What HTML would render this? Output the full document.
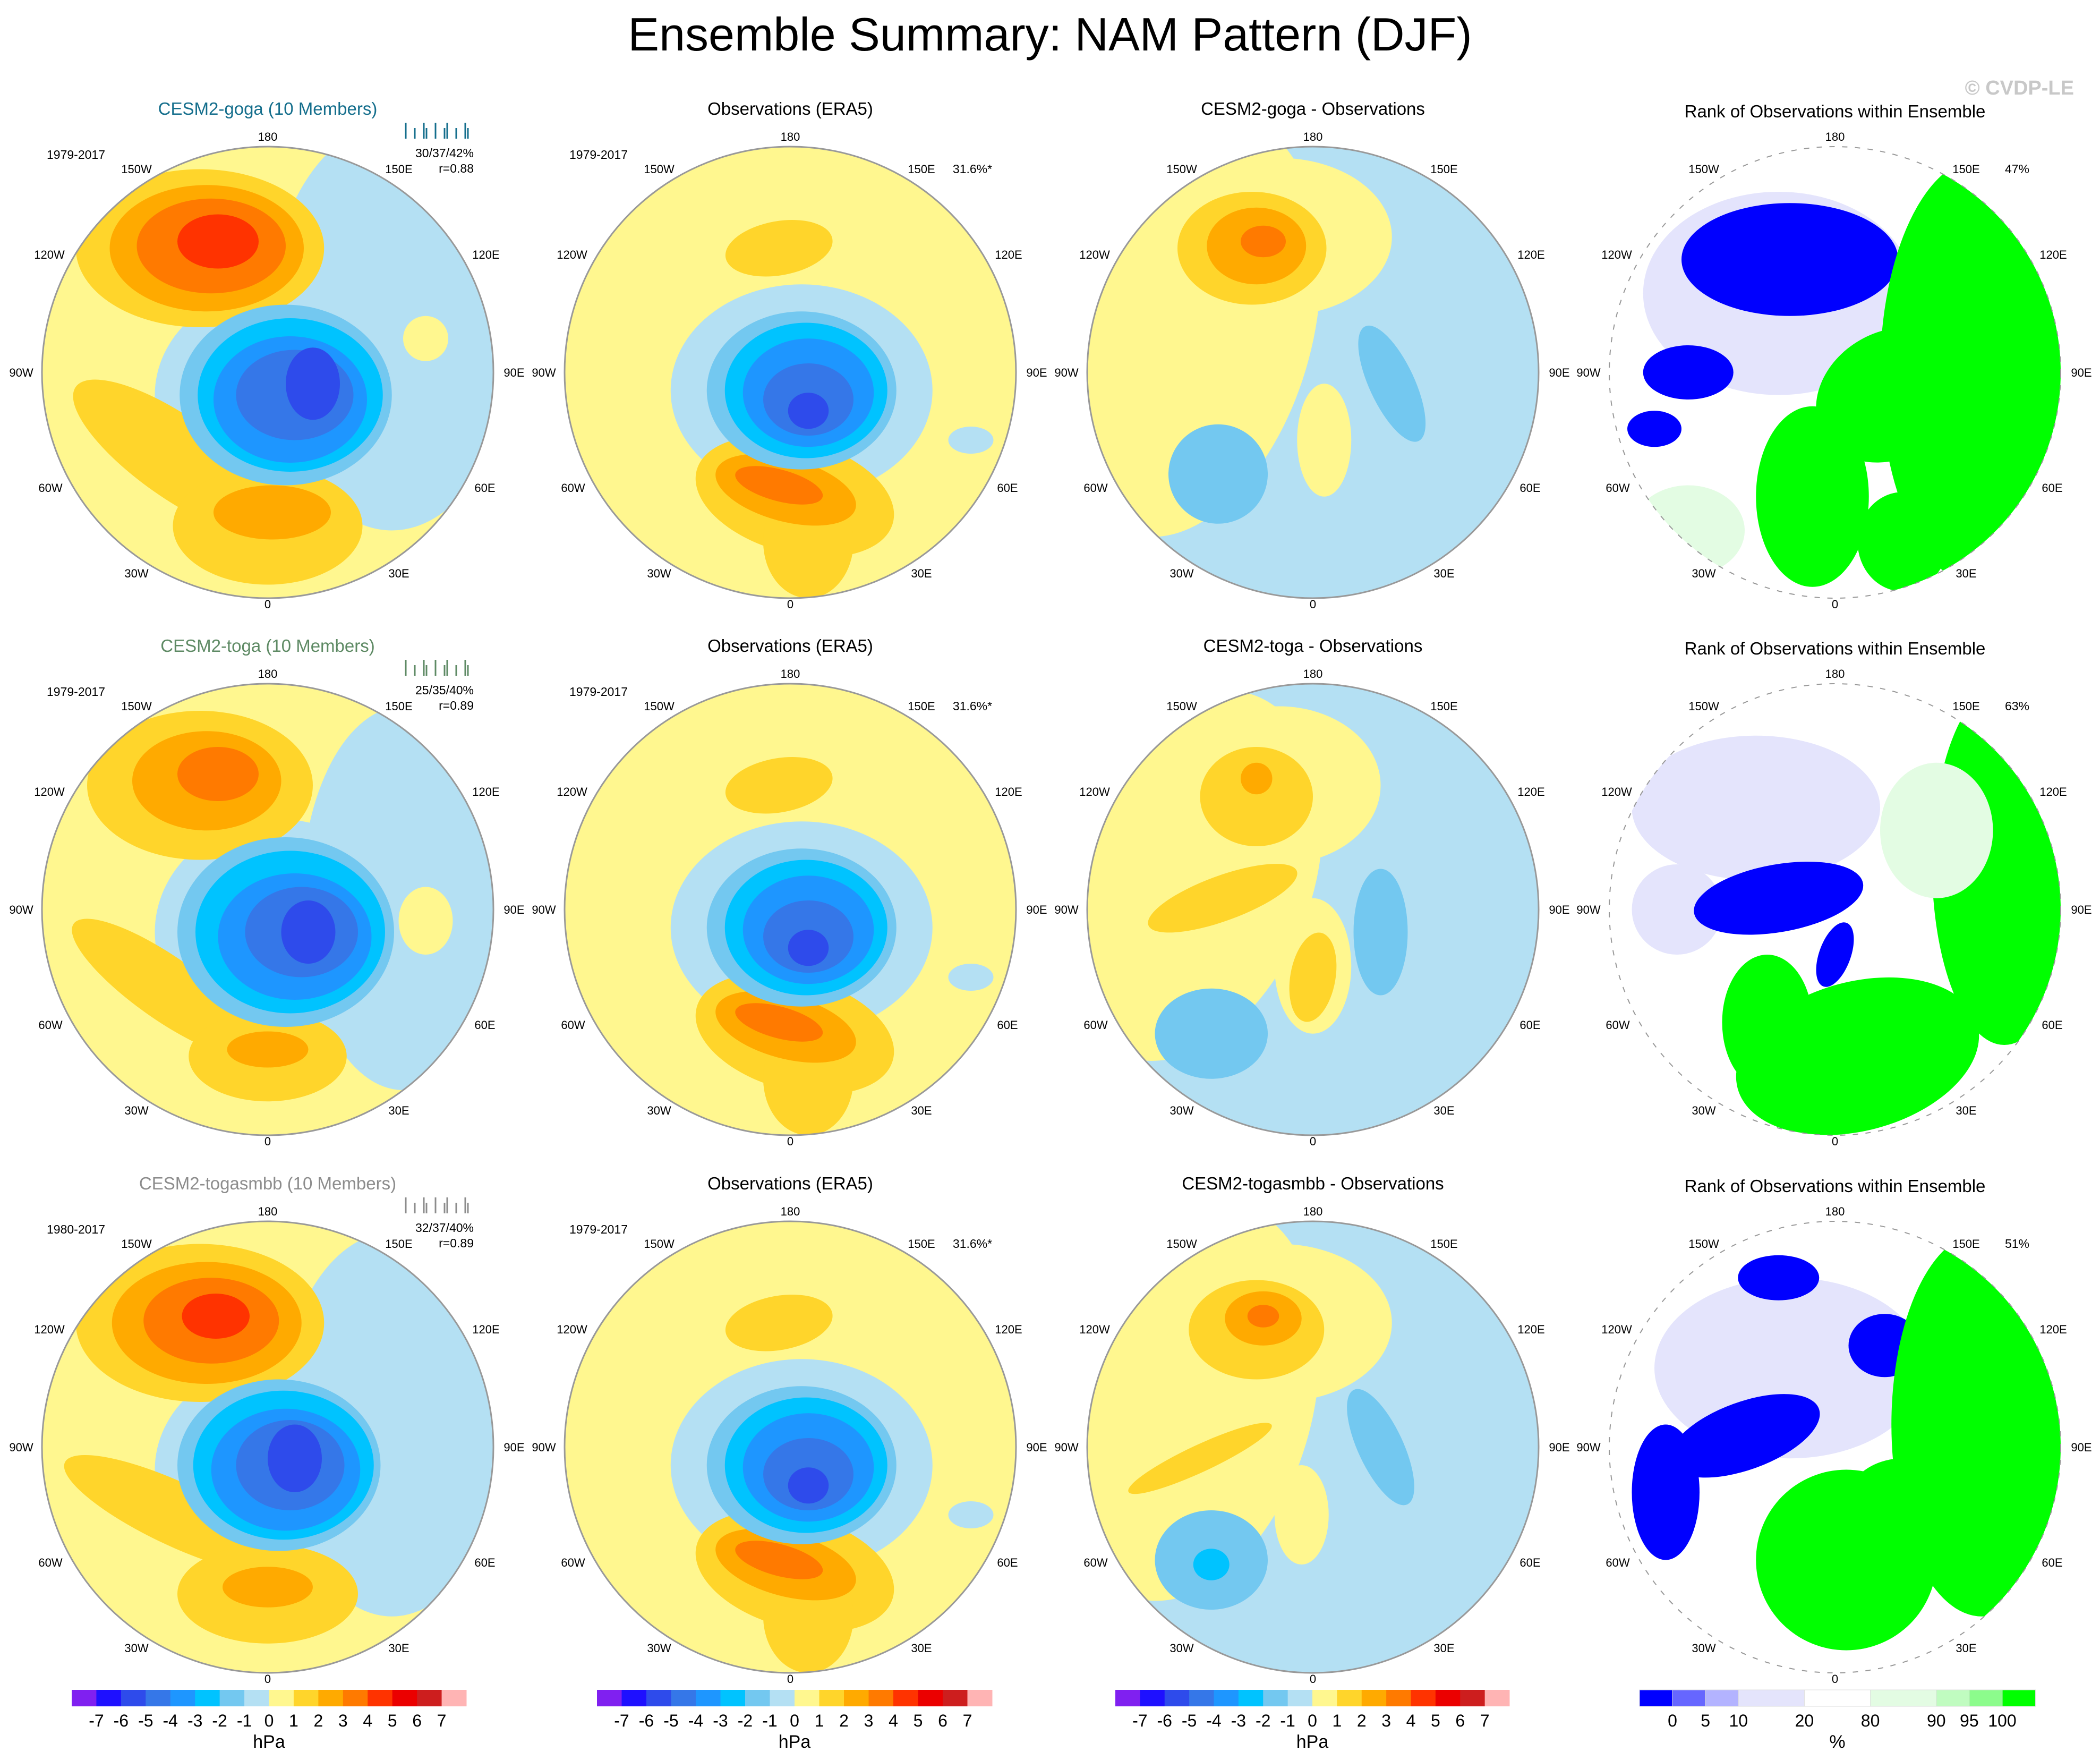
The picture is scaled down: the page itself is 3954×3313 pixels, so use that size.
<!DOCTYPE html>
<html><head><meta charset="utf-8">
<style>
html,body{margin:0;padding:0;background:#fff;}
svg{display:block;font-family:"Liberation Sans",sans-serif;}
</style></head>
<body>
<svg id="fig" xmlns="http://www.w3.org/2000/svg" width="3954" height="3313" viewBox="0 0 3954 3313">
<rect width="3954" height="3313" fill="#fff"/>
<text x="1977" y="95" font-size="88" text-anchor="middle" fill="#000">Ensemble Summary: NAM Pattern (DJF)</text>
<text x="3905" y="178" font-size="38" text-anchor="end" fill="#c8c8c8" font-weight="bold">© CVDP-LE</text>
<g id="panels"></g>
</svg>
<script>
// ---- data ----
const hpaColors=["#8020F0","#1E10FF","#2E4BEB","#3577E8","#1E96FF","#00C3FF","#73C8F0","#B4E0F3","#FFF78F","#FFD52B","#FFAA00","#FF7A00","#FF3300","#EB0000","#CD1E1E","#FFB4B4"];
const hpaTicks=["-7","-6","-5","-4","-3","-2","-1","0","1","2","3","4","5","6","7"];
const rankColors=["#0000FF","#6666FF","#B3B3FF","#E4E4FC","#FFFFFF","#E3FCE3","#C0FCC0","#8CFC8C","#00FF00"];
const rankEdges=[0,5,10,20,80,90,95,100];
const rankTicks=["0","5","10","20","80","90","95","100"];
const rowTitles=["CESM2-goga (10 Members)","CESM2-toga (10 Members)","CESM2-togasmbb (10 Members)"];
const rowTitleColors=["#146E8C","#5E8A64","#8C8C8C"];
const diffTitles=["CESM2-goga - Observations","CESM2-toga - Observations","CESM2-togasmbb - Observations"];
const modelYears=["1979-2017","1979-2017","1980-2017"];
const modelStats=["30/37/42%","25/35/40%","32/37/40%"];
const modelR=["r=0.88","r=0.89","r=0.89"];
const rankPct=["47%","63%","51%"];
const obsPct="31.6%*";
// blobs: [u, v, rx, ry, rotation, value] in units of map radius
const modelBlobs=[
 [[0,0,1.1,1.1,0,0.5],[0.55,-0.2,0.55,0.9,0,-0.5],[0.05,0.1,0.55,0.48,0,-0.5],[-0.3,-0.55,0.55,0.35,0,1.5],[-0.27,-0.55,0.43,0.28,0,2.5],[-0.25,-0.56,0.33,0.21,0,3.5],[-0.22,-0.58,0.18,0.12,0,4.5],[-0.4,0.38,0.55,0.18,35,1.5],[0,0.68,0.42,0.26,0,1.5],[0.02,0.62,0.26,0.12,0,2.5],[0.08,0.1,0.47,0.4,0,-1.5],[0.1,0.1,0.41,0.34,0,-2.5],[0.1,0.12,0.34,0.28,0,-3.5],[0.12,0.1,0.26,0.2,0,-4.5],[0.2,0.05,0.12,0.16,0,-5.5],[0.7,-0.15,0.1,0.1,0,0.5]],
 [[0,0,1.1,1.1,0,0.5],[0.6,-0.05,0.45,0.85,0,-0.5],[0.05,0.1,0.55,0.5,0,-0.5],[-0.3,-0.55,0.5,0.33,0,1.5],[-0.27,-0.57,0.33,0.22,0,2.5],[-0.22,-0.6,0.18,0.12,0,3.5],[-0.45,0.35,0.5,0.14,35,1.5],[0,0.65,0.35,0.2,0,1.5],[0,0.62,0.18,0.08,0,2.5],[0.08,0.1,0.48,0.42,0,-1.5],[0.1,0.1,0.42,0.36,0,-2.5],[0.12,0.12,0.34,0.28,0,-3.5],[0.15,0.1,0.25,0.2,0,-4.5],[0.18,0.1,0.12,0.14,0,-5.5],[0.7,0.05,0.12,0.15,0,0.5]],
 [[0,0,1.1,1.1,0,0.5],[0.55,-0.1,0.5,0.85,0,-0.5],[0.05,0.1,0.55,0.48,0,-0.5],[-0.3,-0.55,0.55,0.35,0,1.5],[-0.27,-0.55,0.42,0.27,0,2.5],[-0.25,-0.56,0.3,0.19,0,3.5],[-0.23,-0.58,0.15,0.1,0,4.5],[-0.4,0.3,0.55,0.14,25,1.5],[0,0.65,0.4,0.22,0,1.5],[0,0.62,0.2,0.09,0,2.5],[0.05,0.08,0.45,0.38,0,-1.5],[0.07,0.08,0.4,0.33,0,-2.5],[0.08,0.1,0.33,0.27,0,-3.5],[0.1,0.08,0.24,0.2,0,-4.5],[0.12,0.05,0.12,0.15,0,-5.5]]
];
const obsBlobs=[[0,0,1.1,1.1,0,0.5],[0.05,0.08,0.58,0.47,0,-0.5],[-0.05,-0.55,0.24,0.12,-10,1.5],[0.02,0.55,0.45,0.25,15,1.5],[0.08,0.75,0.2,0.25,0,1.5],[-0.02,0.52,0.32,0.14,15,2.5],[-0.05,0.5,0.2,0.07,15,3.5],[0.05,0.08,0.42,0.35,0,-1.5],[0.07,0.08,0.36,0.3,0,-2.5],[0.08,0.09,0.29,0.24,0,-3.5],[0.08,0.12,0.2,0.16,0,-4.5],[0.08,0.17,0.09,0.08,0,-5.5],[0.8,0.3,0.1,0.06,0,-0.5]];
const diffBlobs=[
 [[0,0,1.1,1.1,0,-0.5],[-0.55,-0.2,0.55,0.95,15,0.5],[-0.15,-0.6,0.5,0.35,0,0.5],[-0.27,-0.55,0.33,0.25,0,1.5],[-0.25,-0.56,0.22,0.17,0,2.5],[-0.22,-0.58,0.1,0.07,0,3.5],[0.05,0.3,0.12,0.25,0,0.5],[-0.42,0.45,0.22,0.22,0,-1.5],[0.35,0.05,0.1,0.28,-25,-1.5]],
 [[0,0,1.1,1.1,0,-0.5],[-0.55,-0.15,0.55,0.85,20,0.5],[-0.15,-0.55,0.45,0.35,0,0.5],[-0.25,-0.5,0.25,0.22,0,1.5],[-0.25,-0.58,0.07,0.07,0,2.5],[-0.4,-0.05,0.35,0.1,-20,1.5],[0,0.25,0.17,0.3,0,0.5],[0,0.3,0.1,0.2,10,1.5],[-0.45,0.55,0.25,0.2,0,-1.5],[0.3,0.1,0.12,0.28,0,-1.5]],
 [[0,0,1.1,1.1,0,-0.5],[-0.55,-0.2,0.55,0.9,15,0.5],[-0.15,-0.55,0.5,0.35,0,0.5],[-0.25,-0.52,0.3,0.22,0,1.5],[-0.22,-0.57,0.17,0.12,0,2.5],[-0.22,-0.58,0.07,0.05,0,3.5],[-0.5,0.05,0.35,0.06,-25,1.5],[-0.05,0.3,0.12,0.22,0,0.5],[-0.45,0.5,0.25,0.22,0,-1.5],[-0.45,0.52,0.08,0.07,0,-2.5],[0.3,0.0,0.1,0.28,-25,-1.5]]
];
const rankBlobs=[
 [[0,0,1.1,1.1,0,50],[-0.25,-0.35,0.6,0.45,0,15],[-0.2,-0.5,0.48,0.25,0,-1],[-0.65,0.0,0.2,0.12,0,-1],[-0.8,0.25,0.12,0.08,0,-1],[0.65,0.0,0.45,0.95,0,100],[0.25,0.1,0.35,0.28,-30,100],[-0.1,0.55,0.25,0.4,0,100],[0.3,0.75,0.2,0.22,0,100],[-0.65,0.7,0.25,0.2,0,85]],
 [[0,0,1.1,1.1,0,50],[-0.35,-0.45,0.55,0.32,0,15],[-0.7,0.0,0.2,0.2,0,15],[-0.25,-0.05,0.38,0.15,-10,-1],[0,0.2,0.07,0.15,20,-1],[0.75,-0.2,0.32,0.8,0,100],[0.1,0.65,0.55,0.33,-15,100],[-0.3,0.5,0.2,0.3,0,100],[0.45,-0.35,0.25,0.3,0,85]],
 [[0,0,1.1,1.1,0,50],[-0.2,-0.35,0.6,0.4,0,15],[-0.4,-0.05,0.35,0.15,-20,-1],[-0.75,0.2,0.15,0.3,0,-1],[0.22,-0.45,0.16,0.14,0,-1],[-0.25,-0.75,0.18,0.1,0,-1],[0.65,-0.1,0.4,0.85,0,100],[0.05,0.5,0.4,0.4,0,100],[0.3,0.25,0.25,0.2,0,100]]
];
// ---- layout ----
const NS="http://www.w3.org/2000/svg";
const colX=[504,1488,2472,3455], rowY=[701,1712,2724], R=425;
const root=document.getElementById('panels');
function el(tag,attrs,parent){const e=document.createElementNS(NS,tag);for(const k in attrs)e.setAttribute(k,attrs[k]);(parent||root).appendChild(e);return e;}
function hpaColor(v){let i=Math.floor(v)+8;return hpaColors[Math.max(0,Math.min(15,i))];}
function rankColor(v){let i=0;while(i<rankEdges.length&&v>=rankEdges[i])i++;return rankColors[Math.min(i,8)];}
function txt(x,y,s,size,anchor,fill,name,parent){const t=el('text',{x:x,y:y,'font-size':size,'text-anchor':anchor||'middle',fill:fill||'#000'},parent);t.textContent=s;return t;}
const lonLabels=[["180",0,-444],["150W",-247,-383],["150E",247,-383],["120W",-411,-222],["120E",411,-222],["90W",-464,0],["90E",464,0],["60W",-409,217],["60E",409,217],["30W",-247,378],["30E",247,378],["0",0,436]];
let pid=0;
function drawMap(cx,cy,blobs,colorFn,name,dashed){
  const g=el('g',{});
  
  
  const id='clip'+(pid++);
  const cp=el('clipPath',{id:id},g);el('circle',{cx:cx,cy:cy,r:R},cp);
  const gg=el('g',{'clip-path':'url(#'+id+')'},g);
  blobs.forEach((b,i)=>{
    const e=el('ellipse',{cx:cx+b[0]*R,cy:cy+b[1]*R,rx:b[2]*R,ry:b[3]*R,transform:`rotate(${b[4]} ${cx+b[0]*R} ${cy+b[1]*R})`,fill:colorFn(b[5])},gg);
    
    
  });
  const c=el('circle',{cx:cx,cy:cy,r:R,fill:'none',stroke:'#999','stroke-width':dashed?2:3},g);
  if(dashed)c.setAttribute('stroke-dasharray','10 14');
  
  
  lonLabels.forEach(l=>txt(cx+l[1],cy+l[2]+8,l[0],22,'middle','#000','longitude-label',g));
  return g;
}
for(let r=0;r<3;r++){
  const y=rowY[r];
  let g=drawMap(colX[0],y,modelBlobs[r],hpaColor,'model-map-'+(r+1));
  txt(colX[0],y-485,rowTitles[r],33,'middle',rowTitleColors[r],'model-title',g);
  txt(colX[0]-361,y-402,modelYears[r],23,'middle','#000','year-range',g);
  txt(colX[0]+388,y-405,modelStats[r],23,'end','#000','pc-stats',g);
  txt(colX[0]+388,y-376,modelR[r],23,'end','#000','pattern-correlation',g);
  for(let k=0;k<10;k++){const lx=colX[0]+260+k*13+(k%3)*4;const l=el('line',{x1:lx,x2:lx,y1:y-470+(k%2)*10,y2:y-440,stroke:rowTitleColors[r],'stroke-width':3},g);}
  g=drawMap(colX[1],y,obsBlobs,hpaColor,'obs-map-'+(r+1));
  txt(colX[1],y-485,"Observations (ERA5)",33,'middle','#000','obs-title',g);
  txt(colX[1]-361,y-402,"1979-2017",23,'middle','#000','year-range',g);
  txt(colX[1]+343,y-375,obsPct,23,'middle','#000','obs-variance',g);
  g=drawMap(colX[2],y,diffBlobs[r],hpaColor,'diff-map-'+(r+1));
  txt(colX[2],y-485,diffTitles[r],33,'middle','#000','diff-title',g);
  g=drawMap(colX[3],y,rankBlobs[r],rankColor,'rank-map-'+(r+1),true);
  txt(colX[3],y-480,"Rank of Observations within Ensemble",33,'middle','#000','rank-title',g);
  txt(colX[3]+343,y-375,rankPct[r],23,'middle','#000','rank-percent',g);
}
const cbY=3181, cbH=31;
[[135,878],[1124,1868],[2100,2842]].forEach((p,ci)=>{
  const g=el('g',{});
  
  
  const w=(p[1]-p[0])/hpaColors.length;
  hpaColors.forEach((c,i)=>{const r=el('rect',{x:p[0]+i*w,y:cbY,width:w+0.5,height:cbH,fill:c},g);});
  hpaTicks.forEach((t,i)=>txt(p[0]+(i+1)*w,cbY+cbH+38,t,32,'middle','#000','colorbar-tick',g));
  txt((p[0]+p[1])/2,cbY+cbH+78,"hPa",34,'middle','#000','colorbar-unit',g);
});
{
  const g=el('g',{});
  
  
  const x0=3087,x1=3832;
  const widths=[1,1,1,2,2,2,1,1,1]; const unit=(x1-x0)/12;
  let x=x0; const bounds=[];
  rankColors.forEach((c,i)=>{const r=el('rect',{x:x,y:cbY,width:widths[i]*unit+0.5,height:cbH,fill:c,stroke:'#ddd','stroke-width':1},g);x+=widths[i]*unit;bounds.push(x);});
  rankTicks.forEach((t,i)=>txt(bounds[i],cbY+cbH+38,t,32,'middle','#000','colorbar-tick',g));
  txt((x0+x1)/2,cbY+cbH+78,"%",34,'middle','#000','colorbar-unit',g);
}
</script>
</body></html>
